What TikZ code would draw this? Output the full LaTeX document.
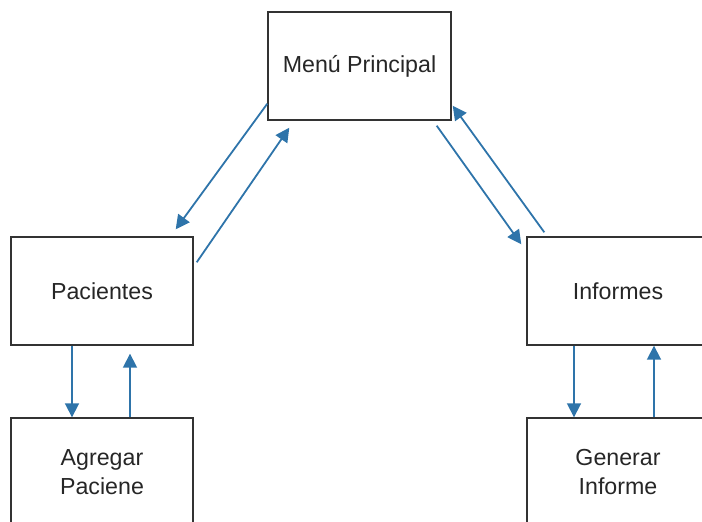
\documentclass[tikz,border=0pt]{standalone}
\usepackage{fontspec}
\setmainfont{Liberation Sans}
\usetikzlibrary{arrows.meta,calc}
\definecolor{arrblue}{HTML}{2E74AA}
\definecolor{boxline}{HTML}{333333}
\tikzset{
  box/.style={draw=boxline,line width=1.4pt,rectangle,minimum width=182pt,minimum height=108pt,inner sep=0pt,align=center,font=\fontsize{23.2}{29}\selectfont,text=black!85},
  arr/.style={draw=arrblue,line width=1.8pt,-{Triangle[length=14pt,width=14pt]}}
}
\begin{document}
\begin{tikzpicture}[x=1pt,y=-1pt]
\useasboundingbox (0,0) rectangle (702,522);
\node[box,minimum width=183pt] (menu) at (359.5,66) {Menú Principal};
\node[box] (pac) at (102,291) {Pacientes};
\node[box] (inf) at (618,291) {Informes};
\node[box] (agr) at (102,472) {Agregar\\Paciene};
\node[box] (gen) at (618,472) {Generar\\Informe};
% diagonal arrows
\draw[arr] ($(menu.south west)+(0,-17)$) -- ($(pac.north east)+(-18,-7)$);
\draw[arr] ($(pac.north east)+(3,26)$) -- ($(menu.south west)+(22,7)$);
\draw[arr] ($(menu.south east)+(-15,5)$) -- ($(inf.north west)+(-5,8)$);
\draw[arr] ($(inf.north west)+(18,-4)$) -- ($(menu.south east)+(1,-15)$);
% vertical arrows
\draw[arr] ($(pac.south)+(-30,0)$) -- ($(agr.north)+(-30,0)$);
\draw[arr] ($(agr.north)+(28,0)$) -- ($(pac.south)+(28,8)$);
\draw[arr] ($(inf.south)+(-44,0)$) -- ($(gen.north)+(-44,0)$);
\draw[arr] ($(gen.north)+(36,0)$) -- ($(inf.south)+(36,0)$);
\end{tikzpicture}
\end{document}
